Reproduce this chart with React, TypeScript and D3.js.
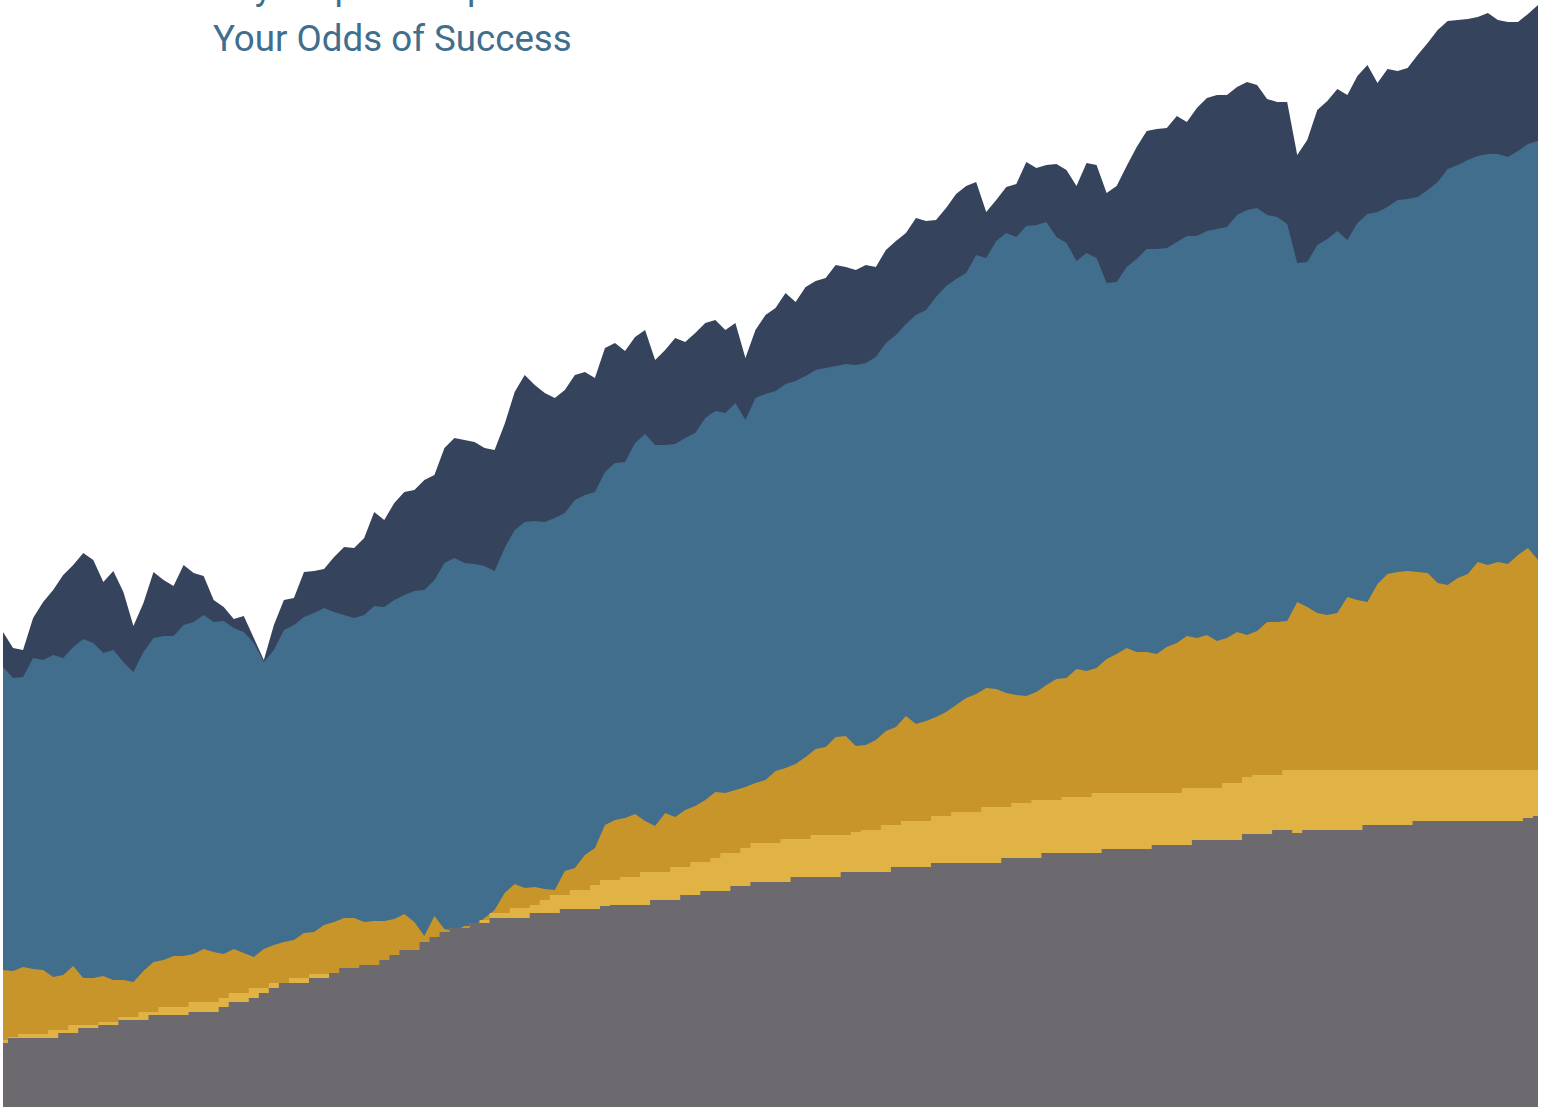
import React, { useEffect, useRef } from 'react';
import * as d3 from 'd3';

// sample index along the time axis (one value per period)
const navyValues = [
  475, 459, 457, 489, 505, 517, 532, 542, 554, 547,
  525, 536, 515, 481, 504, 535, 527, 521, 542, 534,
  531, 507, 500, 488, 491, 469, 447, 482, 507, 509,
  535, 536, 538, 550, 560, 559, 569, 595, 587, 604,
  615, 617, 627, 632, 659, 669, 667, 665, 659, 657,
  683, 715, 732, 722, 714, 709, 717, 732, 735, 729,
  759, 764, 756, 770, 777, 747, 757, 769, 765, 774,
  784, 787, 777, 784, 749, 777, 792, 799, 814, 805,
  820, 826, 829, 842, 840, 837, 842, 840, 857, 866,
  874, 889, 886, 887, 899, 913, 921, 925, 895, 907,
  920, 923, 945, 939, 942, 943, 937, 921, 944, 942,
  914, 921, 941, 960, 976, 978, 979, 991, 985, 999,
  1009, 1012, 1012, 1020, 1025, 1022, 1008, 1005, 1005, 952,
  967, 997, 1006, 1018, 1012, 1031, 1042, 1024, 1038, 1036,
  1039, 1052, 1064, 1077, 1086, 1087, 1088, 1090, 1094, 1087,
  1085, 1085, 1093, 1102,
];

const blueValues = [
  440, 429, 430, 449, 447, 452, 449, 460, 468, 464,
  454, 457, 445, 435, 455, 469, 471, 471, 482, 485,
  492, 485, 486, 479, 475, 464, 445, 457, 477, 482,
  490, 494, 499, 495, 492, 489, 492, 501, 500, 507,
  512, 516, 517, 527, 544, 549, 544, 543, 541, 536,
  559, 577, 585, 586, 585, 589, 594, 607, 612, 615,
  635, 644, 645, 664, 673, 662, 662, 663, 669, 674,
  689, 696, 694, 704, 687, 709, 713, 716, 723, 726,
  731, 737, 739, 741, 743, 742, 744, 750, 764, 772,
  783, 792, 797, 810, 821, 828, 834, 852, 849, 866,
  874, 870, 881, 882, 885, 870, 864, 846, 854, 849,
  824, 825, 840, 848, 858, 858, 859, 865, 871, 871,
  876, 878, 880, 892, 897, 899, 892, 890, 883, 844,
  845, 862, 868, 876, 867, 884, 893, 895, 900, 907,
  908, 910, 917, 925, 938, 942, 947, 951, 953, 953,
  950, 956, 963, 966,
];

const goldValues = [
  137, 136, 140, 138, 137, 130, 132, 141, 129, 129,
  131, 127, 127, 125, 136, 145, 147, 151, 151, 153,
  158, 155, 153, 158, 154, 150, 158, 162, 165, 167,
  174, 175, 182, 185, 189, 189, 185, 186, 186, 188,
  193, 185, 171, 191, 178, 176, 181, 181, 189, 197,
  214, 223, 219, 220, 218, 217, 236, 239, 252, 259,
  282, 287, 289, 293, 286, 281, 294, 290, 297, 301,
  307, 315, 314, 317, 320, 324, 327, 336, 339, 343,
  350, 358, 360, 370, 371, 361, 362, 367, 376, 380,
  391, 383, 386, 390, 395, 402, 409, 413, 419, 418,
  414, 412, 411, 415, 422, 428, 429, 438, 436, 439,
  448, 453, 459, 455, 455, 453, 460, 464, 471, 469,
  472, 466, 469, 475, 472, 476, 485, 485, 486, 505,
  500, 494, 492, 494, 510, 507, 505, 523, 533, 535,
  536, 535, 534, 524, 522, 529, 533, 545, 542, 545,
  543, 552, 559, 547,
];

const yellowValues = [
  67, 70, 73, 73, 73, 77, 77, 82, 82, 82,
  85, 85, 90, 90, 95, 95, 100, 100, 100, 105,
  105, 105, 109, 114, 114, 119, 119, 124, 124, 129,
  129, 133, 133, 134, 139, 139, 142, 142, 147, 152,
  157, 157, 165, 170, 175, 179, 179, 184, 187, 194,
  194, 199, 199, 202, 207, 212, 212, 217, 217, 222,
  227, 227, 230, 230, 235, 235, 235, 240, 240, 245,
  245, 249, 254, 254, 259, 264, 264, 264, 268, 268,
  268, 272, 272, 272, 272, 275, 277, 277, 282, 282,
  286, 286, 286, 291, 291, 295, 295, 295, 300, 300,
  300, 304, 304, 307, 307, 307, 310, 310, 310, 314,
  314, 314, 314, 314, 314, 314, 314, 314, 319, 319,
  319, 319, 324, 324, 330, 332, 332, 332, 337, 337,
  337, 337, 337, 337, 337, 337, 337, 337, 337, 337,
  337, 337, 337, 337, 337, 337, 337, 337, 337, 337,
  337, 337, 337, 337,
];

const greyValues = [
  64, 69, 69, 69, 69, 69, 74, 74, 79, 79,
  82, 82, 87, 87, 87, 92, 92, 92, 92, 95,
  95, 95, 100, 105, 105, 109, 114, 119, 124, 124,
  124, 129, 129, 134, 139, 139, 142, 142, 147, 152,
  157, 157, 165, 170, 175, 179, 179, 184, 184, 189,
  189, 189, 189, 194, 194, 194, 198, 198, 198, 198,
  201, 202, 202, 202, 202, 207, 207, 207, 212, 212,
  216, 216, 216, 221, 221, 225, 225, 225, 225, 230,
  230, 230, 230, 230, 235, 235, 235, 235, 235, 240,
  240, 240, 240, 244, 244, 244, 244, 244, 244, 244,
  249, 249, 249, 249, 254, 254, 254, 254, 254, 254,
  258, 258, 258, 258, 258, 262, 262, 262, 262, 267,
  267, 267, 267, 267, 273, 273, 273, 277, 277, 274,
  277, 277, 277, 277, 277, 277, 282, 282, 282, 282,
  282, 286, 286, 286, 286, 286, 286, 286, 286, 286,
  286, 286, 289, 291,
];

const titleLines = ['Key Steps to Improve', 'Your Odds of Success'];

const WIDTH = 1551;
const HEIGHT = 1107;

const OddsChart: React.FC = () => {
  const svgRef = useRef<SVGSVGElement>(null);

  useEffect(() => {
    if (!svgRef.current) return;
    const svg = d3.select(svgRef.current);
    svg.selectAll('*').remove();

    const colors = {
      navy: '#36435d',
      blue: '#406e8c',
      gold: '#c8952b',
      yellow: '#e0b344',
      grey: '#6c6a6f',
      title: '#406e8c',
    };

    const n = navyValues.length;
    const x = d3.scaleLinear().domain([0, n - 1]).range([3, 1538]);
    const y = d3.scaleLinear().domain([0, 1107]).range([HEIGHT, 0]);

    const layers = [
      { values: navyValues, color: colors.navy, curve: d3.curveLinear },
      { values: blueValues, color: colors.blue, curve: d3.curveLinear },
      { values: goldValues, color: colors.gold, curve: d3.curveLinear },
      { values: yellowValues, color: colors.yellow, curve: d3.curveStep },
      { values: greyValues, color: colors.grey, curve: d3.curveStep },
    ];

    const g = svg.append('g');

    // areas overlap from the baseline, back to front
    layers.forEach(layer => {
      const area = d3.area<number>()
        .x((_, i) => x(i))
        .y0(y(0))
        .y1(d => y(d))
        .curve(layer.curve);

      g.append('path')
        .datum(layer.values)
        .attr('fill', layer.color)
        .attr('d', area);
    });

    // Title (first line runs off the top, as in the source)
    svg.append('text')
      .attr('x', 213)
      .attr('y', 51)
      .attr('font-family', 'Roboto, sans-serif')
      .attr('font-size', '36.7px')
      .attr('fill', colors.title)
      .text(titleLines[1]);

    svg.append('text')
      .attr('x', 213)
      .attr('y', -1)
      .attr('font-family', 'Roboto, sans-serif')
      .attr('font-size', '36.7px')
      .attr('fill', colors.title)
      .text(titleLines[0]);
  }, []);

  return (
    <svg
      ref={svgRef}
      width={WIDTH}
      height={HEIGHT}
      style={{ position: 'absolute', top: 0, left: 0, display: 'block', background: '#ffffff' }}
    />
  );
};

export default function App() {
  return <OddsChart />;
}
